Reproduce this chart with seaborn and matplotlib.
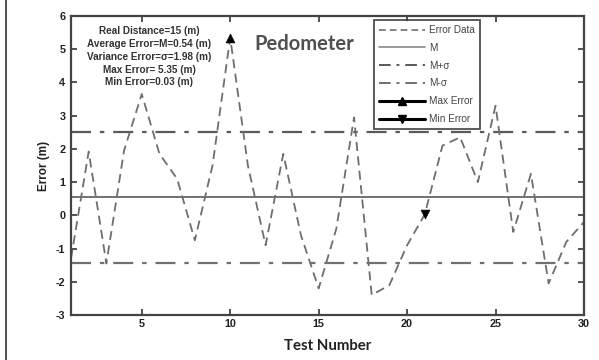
import matplotlib
matplotlib.use("Agg")
import matplotlib.pyplot as plt
from matplotlib.lines import Line2D
import seaborn as sns
import pandas as pd
import numpy as np

# ---- data ----
test_number = list(range(1, 31))
error_m = [-1.3, 1.92, -1.45, 1.95, 3.65, 1.85, 1.1, -0.75, 1.5, 5.35,
           1.5, -0.9, 1.85, -0.6, -2.2, -0.4, 2.95, -2.4, -2.1, -0.9,
           0.03, 2.1, 2.35, 1.0, 3.3, -0.5, 1.25, -2.05, -0.8, -0.2]
mean_err = 0.54
sigma_err = 1.98
max_point = (10, 5.35)
min_point = (21, 0.03)
x_ticks = [5, 10, 15, 20, 25, 30]
y_ticks = [-3, -2, -1, 0, 1, 2, 3, 4, 5, 6]
info_lines = ["Real Distance=15 (m)", "Average Error=M=0.54 (m)",
              "Variance Error=\u03c3=1.98 (m)", "Max Error= 5.35 (m)",
              "Min Error=0.03 (m)"]
legend_labels = ["Error Data", "M", "M+\u03c3", "M-\u03c3", "Max Error", "Min Error"]

df = pd.DataFrame({"Test": test_number, "Error": error_m})

sns.set_theme(style="white")
plt.rcParams["font.family"] = ["Liberation Sans", "DejaVu Sans"]

fig = plt.figure(figsize=(5.99, 3.60), dpi=100)
ax = fig.add_axes([71/599, 1-315/360, (584-71)/599, (315-16)/360])

data_col = "#6e6e6e"
line_col = "#5a5a5a"
dd = (0, (9, 4, 2, 4))

ax.axhline(mean_err, color=line_col, lw=1.2, ls="-", zorder=1)
ax.axhline(mean_err + sigma_err, color=line_col, lw=1.6, ls=dd, zorder=1)
ax.axhline(mean_err - sigma_err, color="#707070", lw=1.6, ls=dd, zorder=1)

sns.lineplot(data=df, x="Test", y="Error", ax=ax, color=data_col,
             lw=1.3, linestyle=(0, (5, 3)), zorder=2)

sns.scatterplot(x=[max_point[0]], y=[max_point[1]], ax=ax, marker="^",
                color="black", s=40, edgecolor="black", zorder=3)
sns.scatterplot(x=[min_point[0]], y=[min_point[1]], ax=ax, marker="v",
                color="black", s=40, edgecolor="black", zorder=3)

ax.set_xlim(1, 30)
ax.set_ylim(-3, 6)
ax.set_xticks(x_ticks)
ax.set_yticks(y_ticks)
ax.set_xticklabels([str(t) for t in x_ticks], fontsize=7.8, fontweight="bold", color="#222222")
ax.set_yticklabels([str(t) for t in y_ticks], fontsize=7.8, fontweight="bold", color="#222222")
ax.tick_params(direction="in", length=4, width=1.2, color="#333333",
               top=True, right=True, bottom=True, left=True, pad=3)
ax.tick_params(axis="y", pad=4)
for s in ax.spines.values():
    s.set_color("#444444")
    s.set_linewidth(1.6)

ax.set_xlabel("Test Number", fontsize=10.8, fontweight="bold", family="Lato",
              color="#222222", labelpad=7)
ax.set_ylabel("Error (m)", fontsize=8.5, fontweight="bold", color="#222222", labelpad=4)

for i, t in enumerate(info_lines):
    fig.text(149 / 599, 1 - (31.5 + i * 12.7) / 360, t, fontsize=7.2,
             fontweight="bold", color="#333333", ha="center", va="center")

fig.text(304 / 599, 1 - 44 / 360, "Pedometer", family="Lato", fontweight="bold",
         fontsize=14.5, color="#505050", ha="center", va="center")

handles = [
    Line2D([], [], color=data_col, lw=1.2, ls=(0, (4, 2.5))),
    Line2D([], [], color="#888888", lw=1.2, ls="-"),
    Line2D([], [], color=line_col, lw=1.4, ls=(0, (6, 3, 1.5, 3))),
    Line2D([], [], color="#707070", lw=1.4, ls=(0, (6, 3, 1.5, 3))),
    Line2D([], [], color="black", lw=2.2, marker="^", markersize=6),
    Line2D([], [], color="black", lw=2.2, marker="v", markersize=6),
]
leg = ax.legend(handles, legend_labels, loc="upper left",
                bbox_to_anchor=((374 - 71) / 513, (315 - 20) / 299),
                fontsize=7.2, frameon=True, fancybox=False, borderpad=0.5,
                labelspacing=0.78, handlelength=4.6, handletextpad=0.4,
                borderaxespad=0)
leg.get_frame().set_edgecolor("#222222")
leg.get_frame().set_linewidth(1.3)
for t in leg.get_texts():
    t.set_color("#444444")

# left border line of the original image
fig.add_artist(Line2D([6 / 599, 6 / 599], [0, 1], transform=fig.transFigure,
                      color="#333333", lw=1.2))

fig.savefig("out.png", dpi=100)
